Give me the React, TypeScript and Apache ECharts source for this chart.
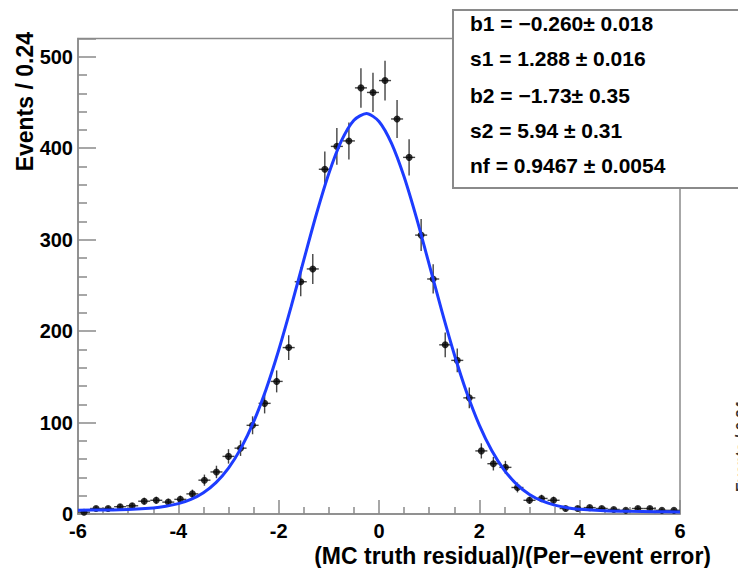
import React, { useEffect, useRef } from "react";
import * as echarts from "echarts";

// Bin centres (bin width 0.24) of the histogram
const binCenters = [
  -5.88, -5.64, -5.4, -5.16, -4.92, -4.68, -4.44, -4.2, -3.96, -3.72,
  -3.48, -3.24, -3.0, -2.76, -2.52, -2.28, -2.04, -1.8, -1.56, -1.32,
  -1.08, -0.84, -0.6, -0.36, -0.12, 0.12, 0.36, 0.6, 0.84, 1.08,
  1.32, 1.56, 1.8, 2.04, 2.28, 2.52, 2.76, 3.0, 3.24, 3.48,
  3.72, 3.96, 4.2, 4.44, 4.68, 4.92, 5.16, 5.4, 5.64, 5.88,
];

// Events per bin
const counts = [
  2, 6, 6, 8, 9, 14, 15, 13, 16, 22,
  37, 46, 63, 72, 97, 121, 145, 182, 254, 268,
  377, 402, 408, 466, 461, 474, 432, 390, 305, 257,
  185, 168, 127, 69, 55, 51, 29, 15, 17, 15,
  6, 6, 7, 6, 5, 4, 6, 6, 4, 4,
];

// Vertical error half-lengths
const errors = [
  1.4, 2.4, 2.4, 2.8, 3.0, 3.7, 3.9, 3.6, 4.0, 4.7,
  6.1, 6.8, 7.9, 8.5, 9.8, 11.0, 12.0, 13.5, 15.9, 16.4,
  19.4, 20.0, 20.2, 21.6, 21.5, 21.8, 20.8, 19.7, 17.5, 16.0,
  13.6, 13.0, 11.3, 8.3, 7.4, 7.1, 5.4, 3.9, 4.1, 3.9,
  2.4, 2.4, 2.6, 2.4, 2.2, 2.0, 2.4, 2.4, 2.0, 2.0,
];

// Fitted curve, sampled positions and values
const fitX = [
  -6, -5.5, -5, -4.5, -4.25, -4, -3.75, -3.5, -3.25, -3, -2.75, -2.5, -2.25,
  -2, -1.75, -1.5, -1.25, -1, -0.75, -0.5, -0.25, 0, 0.25, 0.5, 0.75, 1,
  1.25, 1.5, 1.75, 2, 2.25, 2.5, 2.75, 3, 3.25, 3.5, 3.75, 4, 4.5, 5, 5.5, 6,
];
const fitY = [
  4.1, 4.43, 5.04, 6.66, 8.4, 11.3, 16.0, 23.36, 34.37, 50.22, 72.03, 100.67, 136.51,
  179.11, 227.03, 277.64, 327.51, 372.34, 407.95, 430.68, 438.08, 429.3, 405.31, 368.71, 323.22, 273.05,
  222.43, 174.76, 132.56, 97.21, 69.06, 47.68, 32.2, 21.44, 14.28, 9.7, 6.86, 5.14, 3.52, 2.88, 2.54, 2.27,
];

const xTitle = "(MC truth residual)/(Per\u2212event error)";
const yTitle = "Events / 0.24";
const paramLines = [
  "b1 = \u22120.260\u00b1 0.018",
  "s1 = 1.288 \u00b1 0.016",
  "b2 = \u22121.73\u00b1 0.35",
  "s2 = 5.94 \u00b1 0.31",
  "nf = 0.9467 \u00b1 0.0054",
];
const neighbourTitle = "Events / 0.24";

const FONT = "'Liberation Sans', Arial, Helvetica, sans-serif";
const FRAME = "#8a8a8a";

export default function App() {
  const ref = useRef<HTMLDivElement>(null);

  useEffect(() => {
    if (!ref.current) return;
    const chart = echarts.init(ref.current, undefined, { renderer: "svg" });

    const points = binCenters.map((x, i) => [x, counts[i], errors[i]]);
    const fit = fitX.map((x, i) => [x, fitY[i]]);
    const lineYs = [23.5, 58.5, 95, 130.5, 165];

    const option: any = {
      animation: false,
      backgroundColor: "#ffffff",
      grid: {
        left: 78,
        right: 58,
        top: 38.5,
        bottom: 54,
        show: true,
        borderColor: FRAME,
        borderWidth: 1.5,
        backgroundColor: "transparent",
      },
      xAxis: {
        type: "value",
        min: -6,
        max: 6,
        interval: 2,
        axisLine: { show: true, onZero: false, lineStyle: { color: FRAME, width: 1.5 } },
        axisTick: { show: true, inside: true, length: 14, lineStyle: { color: FRAME, width: 1.5 } },
        minorTick: { show: true, splitNumber: 4, length: 7, lineStyle: { color: FRAME, width: 1.5 } },
        splitLine: { show: false },
        minorSplitLine: { show: false },
        axisLabel: {
          color: "#000",
          fontSize: 20,
          lineHeight: 18,
          fontWeight: "bold",
          fontFamily: FONT,
          margin: 8,
        },
      },
      yAxis: {
        type: "value",
        min: 0,
        max: 520,
        interval: 100,
        axisLine: { show: true, onZero: false, lineStyle: { color: FRAME, width: 1.5 } },
        axisTick: { show: true, inside: true, length: 18, lineStyle: { color: FRAME, width: 1.5 } },
        minorTick: { show: true, splitNumber: 5, length: 9, lineStyle: { color: FRAME, width: 1.5 } },
        splitLine: { show: false },
        minorSplitLine: { show: false },
        axisLabel: {
          color: "#000",
          fontSize: 20,
          fontWeight: "bold",
          fontFamily: FONT,
          margin: 5,
          showMaxLabel: false,
        },
      },
      series: [
        {
          type: "custom",
          name: "errors",
          data: points,
          z: 2,
          clip: false,
          renderItem: (params: any, api: any) => {
            const x = api.value(0);
            const y = api.value(1);
            const e = api.value(2);
            const top = api.coord([x, y + e]);
            const bot = api.coord([x, Math.max(y - e, 0)]);
            const l = api.coord([x - 0.12, y]);
            const r = api.coord([x + 0.12, y]);
            const st = { stroke: "#444444", lineWidth: 1.4 };
            return {
              type: "group",
              children: [
                { type: "line", shape: { x1: top[0], y1: top[1], x2: bot[0], y2: bot[1] }, style: st },
                { type: "line", shape: { x1: l[0], y1: l[1], x2: r[0], y2: r[1] }, style: st },
              ],
            };
          },
        },
        {
          type: "scatter",
          name: "data",
          data: points.map((p) => [p[0], p[1]]),
          symbol: "circle",
          symbolSize: 7,
          itemStyle: { color: "#000" },
          z: 3,
        },
        {
          type: "line",
          name: "fit",
          data: fit,
          smooth: 0.25,
          showSymbol: false,
          symbol: "none",
          lineStyle: { color: "#1d3cff", width: 3 },
          z: 4,
        },
      ],
      graphic: [
        {
          type: "text",
          x: 711,
          y: 556,
          style: {
            text: xTitle,
            fill: "#000",
            font: `bold 23px ${FONT}`,
            lineHeight: 22,
            textAlign: "right",
            textVerticalAlign: "middle",
          },
        },
        {
          type: "text",
          x: 25,
          y: 32,
          rotation: Math.PI / 2,
          style: {
            text: yTitle,
            fill: "#000",
            font: `bold 23px ${FONT}`,
            textAlign: "right",
            textVerticalAlign: "middle",
          },
        },
        {
          type: "text",
          x: 733,
          y: 492,
          rotation: Math.PI / 2,
          style: {
            text: neighbourTitle,
            fill: "#333",
            font: `bold 15px ${FONT}`,
            textAlign: "left",
            textVerticalAlign: "top",
          },
        },
        {
          type: "rect",
          z: 10,
          shape: { x: 453, y: 10, width: 300, height: 178 },
          style: { fill: "#ffffff", stroke: FRAME, lineWidth: 2 },
        },
        ...paramLines.map((t, i) => ({
          type: "text",
          z: 11,
          x: 470,
          y: lineYs[i],
          style: {
            text: t,
            fill: "#000",
            font: `bold 21px ${FONT}`,
            textAlign: "left",
            textVerticalAlign: "middle",
          },
        })),
      ],
    };

    chart.setOption(option);
    return () => {
      chart.dispose();
    };
  }, []);

  return (
    <div
      ref={ref}
      style={{ position: "absolute", left: 0, top: 0, width: 738, height: 568, background: "#fff" }}
    />
  );
}
